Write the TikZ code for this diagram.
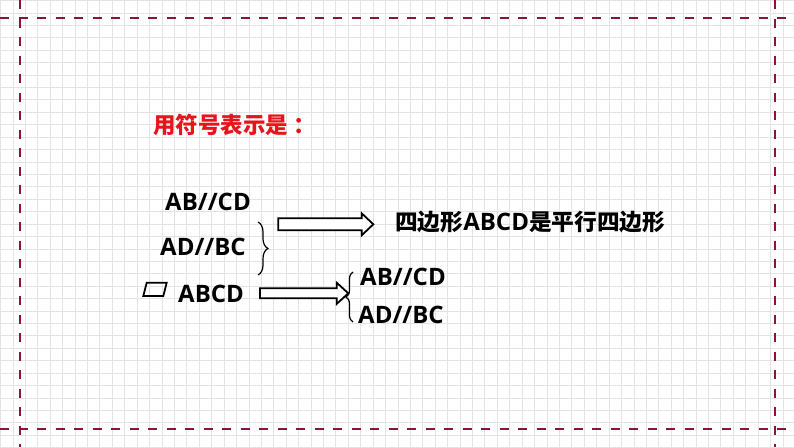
\documentclass[tikz,border=0pt]{standalone}
\usepackage{fontspec}
\setmainfont{Open Sans}
\newfontfamily\cjk{Noto Sans CJK SC}
\usetikzlibrary{decorations.pathreplacing}
\definecolor{gridc}{HTML}{E3E3E3}
\definecolor{borderc}{HTML}{8A1538}
\definecolor{titlered}{HTML}{E8141B}
\tikzset{
  border/.style={draw=borderc, line width=2pt, dash pattern=on 9pt off 9.5pt},
  latin/.style={font=\fontsize{24}{26}\selectfont\bfseries, inner sep=0pt, anchor=base west},
  blockarrow/.style={draw=black, line width=1.8pt, fill=white, line join=miter},
  bracestyle/.style={draw=black, line width=1.2pt},
}
\begin{document}
\begin{tikzpicture}[x=1pt, y=-1pt]
\useasboundingbox (0,0) rectangle (794,447);
\fill[white] (0,0) rectangle (794,447);
% grid
\foreach \i in {0,...,64} {
  \draw[gridc, line width=0.6pt] ({0.4+12.42*\i},0) -- ({0.4+12.42*\i},447);
}
\foreach \j in {0,...,36} {
  \draw[gridc, line width=0.6pt] (0,{0.4+12.42*\j}) -- (794,{0.4+12.42*\j});
}
% dashed border
\draw[border] (0,18) -- (794,18);
\draw[border] (0,429) -- (794,429);
\draw[border] (20,0) -- (20,447);
\draw[border] (775,0) -- (775,447);
% title
\node[inner sep=0pt, anchor=base west, text=titlered, font=\cjk\fontsize{22.5}{24}\selectfont\bfseries] (title) at (153,133) {用符号表示是\hspace{5pt}：};
% left texts
\node[latin] (ab1) at (165,210) {AB//CD};
\node[latin] (ad1) at (160,255) {AD//BC};
\node[latin] (abcd) at (178,302) {ABCD};
\draw[line width=1.8pt, line join=miter] (146.7,282.7) -- (166.7,282.7) -- (163.3,296) -- (143.3,296) -- cycle;
% brace 1
\coordinate (b1top) at (258,222);
\coordinate (b1bot) at (258,275);
\draw[bracestyle, decorate, decoration={brace, amplitude=10pt}] (b1top) -- (b1bot);
% arrow 1
\coordinate (a1e) at (373.3,224.3);
\draw[blockarrow] (278.3,218.3) -- (361.7,218.3) -- (361.7,213.3) -- (a1e) -- (361.7,235.3) -- (361.7,230.3) -- (278.3,230.3) -- cycle;
% conclusion
\node[inner sep=0pt, anchor=base west] (concl) at (395,230) {\cjk\fontsize{22.7}{25}\selectfont\bfseries 四边形\fontspec{Open Sans}\fontsize{24}{26}\selectfont\bfseries ABCD\cjk\fontsize{22.7}{25}\selectfont\bfseries 是平行四边形};
% arrow 2
\coordinate (a2e) at (348.3,293.3);
\draw[blockarrow] (260,288.3) -- (336.7,288.3) -- (336.7,282.7) -- (a2e) -- (336.7,303.9) -- (336.7,298.3) -- (260,298.3) -- cycle;
% brace 2
\coordinate (b2top) at (353,272);
\coordinate (b2bot) at (353,322);
\draw[bracestyle, decorate, decoration={brace, amplitude=7pt, mirror}] (b2top) -- (b2bot);
\node[latin] (ab2) at (360,285) {AB//CD};
\node[latin] (ad2) at (358,323) {AD//BC};
\end{tikzpicture}
\end{document}
